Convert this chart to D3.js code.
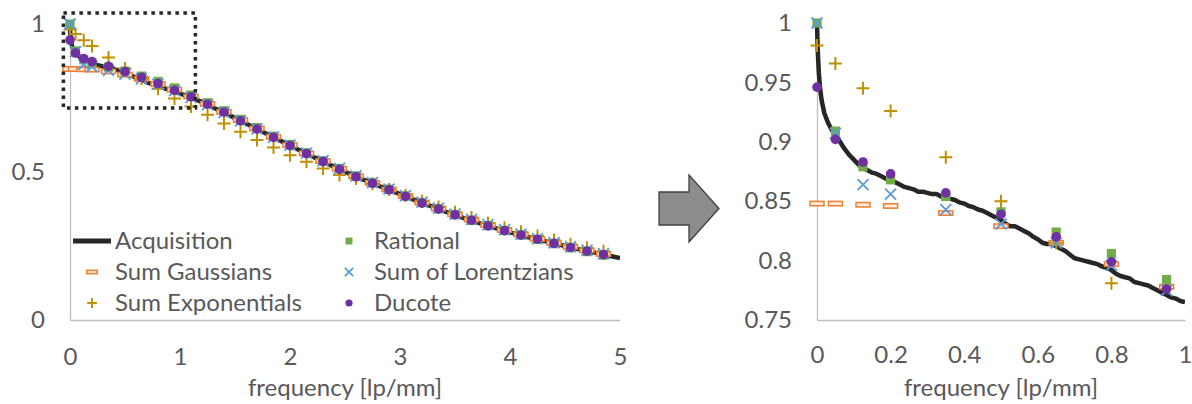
<!DOCTYPE html>
<html><head><meta charset="utf-8">
<script src="https://cdn.jsdelivr.net/npm/d3@7"></script>
<style>
body{margin:0;background:#fff}
svg{display:block}
</style>
</head><body>
<svg id="c" width="1192" height="404"></svg>
<script>
// ---------- DATA ----------
const acqFreq = [0,0.002,0.005,0.008,0.0125,0.02,0.03,0.04,0.05,0.0625,0.075,0.0875,
 0.1,0.1125,0.125,0.1375,0.15,0.1625,0.175,0.1875,0.2,0.2125,0.225,0.2375,0.25,0.2625,0.275,0.2875,
 0.3,0.3125,0.325,0.3375,0.35,0.3625,0.375,0.3875,0.4,0.4125,0.425,0.4375,0.45,0.4625,0.475,0.4875,
 0.5,0.5125,0.525,0.5375,0.55,0.5625,0.575,0.5875,0.6,0.6125,0.625,0.6375,0.65,0.6625,0.675,0.6875,
 0.7,0.7125,0.725,0.7375,0.75,0.7625,0.775,0.7875,0.8,0.8125,0.825,0.8375,0.85,0.8625,0.875,0.8875,
 0.9,0.9125,0.925,0.9375,0.95,0.9625,0.975,0.9875,1.0,
 1.1,1.2,1.3,1.4,1.5,1.6,1.7,1.8,1.9,2.0,2.1,2.2,2.3,2.4,2.5,2.6,2.7,2.8,2.9,3.0,
 3.1,3.2,3.3,3.4,3.5,3.6,3.7,3.8,3.9,4.0,4.1,4.2,4.3,4.4,4.5,4.6,4.7,4.8,4.9,5.0];
const acqVal = [1.0,0.977,0.958,0.946,0.935,0.924,0.916,0.910,0.906,0.900,0.894,0.889,
 0.885,0.881,0.878,0.876,0.874,0.873,0.871,0.869,0.867,0.866,0.864,0.862,0.861,0.860,0.858,0.858,
 0.857,0.856,0.856,0.854,0.853,0.852,0.851,0.849,0.848,0.846,0.845,0.843,0.842,0.840,0.838,0.836,
 0.834,0.831,0.829,0.829,0.827,0.825,0.823,0.820,0.818,0.815,0.814,0.814,0.812,0.810,0.808,0.805,
 0.802,0.801,0.800,0.799,0.798,0.797,0.795,0.794,0.792,0.789,0.787,0.786,0.785,0.782,0.781,0.780,
 0.779,0.777,0.775,0.773,0.771,0.769,0.768,0.766,0.765,
 0.752,0.736,0.718,0.701,0.682,0.664,0.645,0.627,0.608,0.590,0.571,0.553,0.535,0.518,0.501,0.484,0.469,0.454,0.440,0.425,
 0.410,0.396,0.382,0.368,0.355,0.342,0.330,0.318,0.307,0.296,0.286,0.277,0.268,0.259,0.250,0.241,0.233,0.225,0.217,0.209];

const fitFreq = [0,0.05,0.125,0.2,0.35,0.5,0.65,0.8,0.95,1.1,1.25,1.4,1.55,1.7,1.85,2.0,2.15,2.3,2.45,2.6,
 2.75,2.9,3.05,3.2,3.35,3.5,3.65,3.8,3.95,4.1,4.25,4.4,4.55,4.7,4.85];
const gaussVals = [0.848,0.848,0.847,0.846,0.840,0.829,0.815,0.797,0.778,0.755,0.730,0.703,0.675,0.647,0.619,0.591,0.563,0.537,0.511,0.486,
 0.463,0.441,0.419,0.397,0.377,0.357,0.339,0.321,0.304,0.289,0.274,0.260,0.247,0.235,0.223];
const expVals = [0.981,0.966,0.945,0.926,0.887,0.850,0.815,0.781,0.748,0.721,0.693,0.664,0.636,0.608,0.583,0.557,0.535,0.512,0.490,0.478,
 0.460,0.441,0.421,0.401,0.382,0.364,0.346,0.328,0.312,0.298,0.284,0.270,0.256,0.244,0.232];
const rationalVals = [1.0,0.909,0.879,0.868,0.854,0.841,0.824,0.806,0.784,0.760,0.734,0.707,0.678,0.650,0.621,0.593,0.565,0.538,0.512,0.487,
 0.464,0.442,0.419,0.397,0.376,0.356,0.337,0.319,0.302,0.287,0.272,0.258,0.244,0.231,0.219];
const lorentzVals = [1.0,0.907,0.864,0.856,0.843,0.831,0.815,0.796,0.775,0.752,0.728,0.701,0.673,0.646,0.618,0.591,0.564,0.538,0.512,0.487,
 0.464,0.442,0.420,0.398,0.378,0.358,0.340,0.322,0.305,0.290,0.275,0.261,0.248,0.236,0.224];
const ducoteVals = [0.946,0.902,0.883,0.873,0.857,0.839,0.820,0.799,0.776,0.754,0.729,0.702,0.673,0.645,0.617,0.589,0.562,0.535,0.509,0.484,
 0.462,0.440,0.418,0.395,0.375,0.355,0.337,0.318,0.302,0.287,0.273,0.259,0.245,0.233,0.221];

const leftXTicks = [0,1,2,3,4,5];
const leftXLabels = ['0','1','2','3','4','5'];
const leftYTicks = [0,0.5,1];
const leftYLabels = ['0','0.5','1'];
const rightXTicks = [0,0.2,0.4,0.6,0.8,1];
const rightXLabels = ['0','0.2','0.4','0.6','0.8','1'];
const rightYTicks = [0.75,0.8,0.85,0.9,0.95,1];
const rightYLabels = ['0.75','0.8','0.85','0.9','0.95','1'];
const xTitle = 'frequency [lp/mm]';
const zoomBox = {f0:-0.06, f1:1.14, v0:0.716, v1:1.037};

// ---------- STYLE ----------
const FONT = 'Lato, "Open Sans", sans-serif';
const TXT = '#595959', AXIS = '#BFBFBF', FS = 24;

const series = [
  {name:'Sum Gaussians', vals:gaussVals, kind:'dash', color:'#ED7D31'},
  {name:'Sum Exponentials', vals:expVals, kind:'plus', color:'#BF9000'},
  {name:'Rational', vals:rationalVals, kind:'square', color:'#70AD47'},
  {name:'Sum of Lorentzians', vals:lorentzVals, kind:'x', color:'#5B9BD5'},
  {name:'Ducote', vals:ducoteVals, kind:'circle', color:'#7030A0'}
];

const svg = d3.select('#c');

function marker(sel, kind, color, s){
  if(kind==='dash') sel.append('rect').attr('x',-7*s).attr('y',-2.2*s).attr('width',14*s).attr('height',4.4*s)
      .attr('fill','#fde9d9').attr('stroke',color).attr('stroke-width',1.5);
  if(kind==='plus') sel.append('path').attr('d',`M${-6.5*s},0H${6.5*s}M0,${-6.5*s}V${6.5*s}`)
      .attr('stroke',color).attr('stroke-width',2).attr('fill','none');
  if(kind==='square') sel.append('rect').attr('x',-4.6*s).attr('y',-4.6*s).attr('width',9.2*s).attr('height',9.2*s).attr('fill',color);
  if(kind==='x') sel.append('path').attr('d',`M${-5.5*s},${-5.5*s}L${5.5*s},${5.5*s}M${-5.5*s},${5.5*s}L${5.5*s},${-5.5*s}`)
      .attr('stroke',color).attr('stroke-width',1.8).attr('fill','none');
  if(kind==='circle') sel.append('circle').attr('r',4.8*s).attr('fill',color);
}

function panel(id, x, y, xt, xl, yt, yl, xPad, yPad, fMax, vMin){
  const g = svg.append('g');
  const x0 = x.range()[0], x1 = x.range()[1], yb = y.range()[0], ytop = y.range()[1];
  const ax = g.append('g').attr('transform',`translate(0,${yb})`)
    .call(d3.axisBottom(x).tickValues(xt).tickFormat((d,i)=>xl[i]).tickSize(0).tickSizeOuter(0).tickPadding(xPad));
  const ay = g.append('g').attr('transform',`translate(${x0},0)`)
    .call(d3.axisLeft(y).tickValues(yt).tickFormat((d,i)=>yl[i]).tickSize(0).tickSizeOuter(0).tickPadding(yPad));
  [ax,ay].forEach(a=>{
    a.attr('font-family',FONT).attr('font-size',FS);
    a.select('.domain').attr('stroke',AXIS).attr('stroke-width',1.3);
    a.selectAll('text').attr('fill',TXT);
  });
  g.append('text').attr('x',(x0+x1)/2).attr('y',396).attr('text-anchor','middle')
    .attr('font-family',FONT).attr('font-size',FS).attr('fill',TXT).text(xTitle);

  const clip = svg.append('clipPath').attr('id',id).append('rect')
    .attr('x',x0-12).attr('y',ytop-12).attr('width',x1-x0+12).attr('height',yb-ytop+12);
  const plot = g.append('g').attr('clip-path',`url(#${id})`);

  const acq = acqFreq.map((f,i)=>({f, v:acqVal[i]})).filter(d=>d.f<=fMax);
  plot.append('path').datum(acq)
    .attr('d', d3.line().x(d=>x(d.f)).y(d=>y(d.v)))
    .attr('fill','none').attr('stroke','#262626').attr('stroke-width',4.5).attr('stroke-linejoin','round');

  series.forEach(s=>{
    const pts = fitFreq.map((f,i)=>({f, v:s.vals[i]})).filter(d=>d.f<=fMax && d.v>=vMin);
    plot.append('g').selectAll('g').data(pts).join('g')
      .attr('transform',d=>`translate(${x(d.f)},${y(d.v)})`)
      .each(function(){ marker(d3.select(this), s.kind, s.color, 1); });
  });
  return g;
}

// left panel
const xL = d3.scaleLinear().domain([0,5]).range([70,620]);
const yL = d3.scaleLinear().domain([0,1]).range([320,24]);
panel('clipL', xL, yL, leftXTicks, leftXLabels, leftYTicks, leftYLabels, 28, 25, 5, 0);

// zoom box
svg.append('rect')
  .attr('x', xL(zoomBox.f0)).attr('y', yL(zoomBox.v1))
  .attr('width', xL(zoomBox.f1)-xL(zoomBox.f0)).attr('height', yL(zoomBox.v0)-yL(zoomBox.v1))
  .attr('fill','none').attr('stroke','#262626').attr('stroke-width',3.5).attr('stroke-dasharray','3.5 4.5');

// legend
const legend = [
  {name:'Acquisition', kind:'line', color:'#262626'},
  ...series
];
const lg = svg.append('g');
legend.forEach((e,i)=>{
  const col = Math.floor(i/3), row = i%3;
  const mx = col===0 ? 92 : 349, tx = col===0 ? 115 : 374, cy = 241 + row*31;
  const item = lg.append('g');
  if(e.kind==='line'){
    item.append('line').attr('x1',mx-19).attr('x2',mx+19).attr('y1',cy).attr('y2',cy)
      .attr('stroke',e.color).attr('stroke-width',5);
  } else {
    marker(item.append('g').attr('transform',`translate(${mx},${cy})`), e.kind, e.color, 0.75);
  }
  item.append('text').attr('x',tx).attr('y',cy).attr('dy','0.35em')
    .attr('font-family',FONT).attr('font-size',FS).attr('fill',TXT).text(e.name);
});

// arrow
svg.append('path')
  .attr('d','M659,192H689V175L719,208.5L689,242V225H659Z')
  .attr('fill','#8c8c8c').attr('stroke','#404040').attr('stroke-width',1.3);

// right panel
const xR = d3.scaleLinear().domain([0,1]).range([817,1185]);
const yR = d3.scaleLinear().domain([0.75,1]).range([320,23]);
panel('clipR', xR, yR, rightXTicks, rightXLabels, rightYTicks, rightYLabels, 26, 25, 1.0001, 0.75);
</script>
</body></html>
